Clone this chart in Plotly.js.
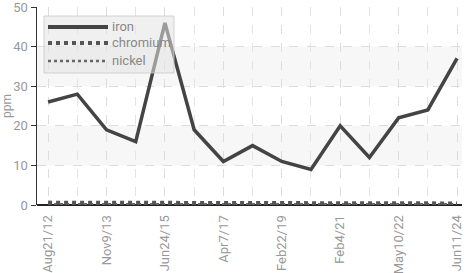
<!DOCTYPE html>
<html><head><meta charset="utf-8">
<script src="https://cdn.plot.ly/plotly-3.0.1.min.js"></script>
<style>html,body{margin:0;padding:0;background:#fff}#c{width:467px;height:273px}</style>
</head><body><div id="c"></div>
<script>
const dates = ["Aug21/12","Mar5/13","Nov9/13","May2/14","Jun24/15","Apr20/16","Apr7/17","Jun8/18","Feb22/19","Apr9/20","Feb4/21","Sep15/21","May10/22","Jul3/23","Jun11/24"];
const shownTicks = ["Aug21/12","Nov9/13","Jun24/15","Apr7/17","Feb22/19","Feb4/21","May10/22","Jun11/24"];
const seriesNames = ["iron","chromium","nickel"];
const iron = [26,28,19,16,46,19,11,15,11,9,20,12,22,24,37];
const chromium = [0.6,0.6,0.6,0.5,0.6,0.5,0.4,0.4,0.4,0.4,0.4,0.4,0.5,0.5,0.4];
const nickel = [0.2,0.2,0.2,0.2,0.3,0.2,0.2,0.2,0.2,0.2,0.2,0.2,0.2,0.2,0.2];
const yTicks = [0,10,20,30,40,50];

const W=467,H=273,L=37,R=5,T=7,B=68;
const pw=W-L-R, ph=H-T-B;
const px=x=>(x-L)/pw, py=y=>(H-B-y)/ph;
const FONT="Liberation Sans Narrow, Roboto, sans-serif";

const traces=[
 {x:dates,y:nickel,name:seriesNames[2],mode:'lines',line:{color:'#666',width:2.5,dash:'dot'}},
 {x:dates,y:chromium,name:seriesNames[1],mode:'lines',line:{color:'#555',width:4,dash:'dot'}},
 {x:dates,y:iron,name:seriesNames[0],mode:'lines',line:{color:'#444',width:3.5}}
];
const shapes=[
 {type:'rect',xref:'paper',yref:'y',x0:0,x1:1,y0:10,y1:20,fillcolor:'#f7f7f7',line:{width:0},layer:'below'},
 {type:'rect',xref:'paper',yref:'y',x0:0,x1:1,y0:30,y1:40,fillcolor:'#f7f7f7',line:{width:0},layer:'below'},
 {type:'rect',xref:'paper',yref:'paper',x0:px(44),x1:px(174),y0:py(73),y1:py(16),fillcolor:'rgba(228,228,228,0.55)',line:{color:'rgba(200,200,200,0.8)',width:1},layer:'above'},
 {type:'line',xref:'paper',yref:'paper',x0:px(48),x1:px(108),y0:py(27),y1:py(27),line:{color:'#444',width:4}},
 {type:'line',xref:'paper',yref:'paper',x0:px(48),x1:px(108),y0:py(43),y1:py(43),line:{color:'#555',width:4,dash:'dot'}},
 {type:'line',xref:'paper',yref:'paper',x0:px(48),x1:px(108),y0:py(61),y1:py(61),line:{color:'#666',width:2.5,dash:'dot'}}
];
const annotations=[27,43,61].map((yy,i)=>({xref:'paper',yref:'paper',x:px(110),y:py(yy),xanchor:'left',yanchor:'middle',showarrow:false,text:seriesNames[i],font:{family:FONT,size:13,color:'#888'}}));

const layout={
 width:W,height:H,margin:{l:L,r:R,t:T,b:B,pad:0},
 paper_bgcolor:'#fff',plot_bgcolor:'#fff',showlegend:false,
 font:{family:FONT,size:13,color:'#999'},
 xaxis:{type:'category',range:[-0.38,14.17],tickvals:shownTicks,ticktext:shownTicks,tickangle:-90,
   showgrid:true,gridcolor:'#ddd',griddash:'dash',gridwidth:1,showline:false,zeroline:false,
   ticks:'outside',ticklen:4,tickcolor:'rgba(0,0,0,0)',
   tickfont:{family:FONT,size:13,color:'#999'}},
 yaxis:{range:[0,50],tickvals:yTicks,showgrid:true,gridcolor:'#ddd',griddash:'dash',zeroline:true,zerolinecolor:'#222',zerolinewidth:1.5,
   showline:true,linecolor:'#333',linewidth:1.5,ticks:'outside',ticklen:5,tickcolor:'#333',ticklabeloverflow:'allow',
   title:{text:'ppm',font:{family:FONT,size:12,color:'#999'},standoff:4},tickfont:{family:FONT,size:13,color:'#999'}},
 shapes:shapes,annotations:annotations
};
layout.xaxis.minor={tickvals:dates,showgrid:true,gridcolor:'#e4e4e4',griddash:'dash'};
Plotly.newPlot('c',traces,layout,{displayModeBar:false,staticPlot:true});
</script></body></html>
